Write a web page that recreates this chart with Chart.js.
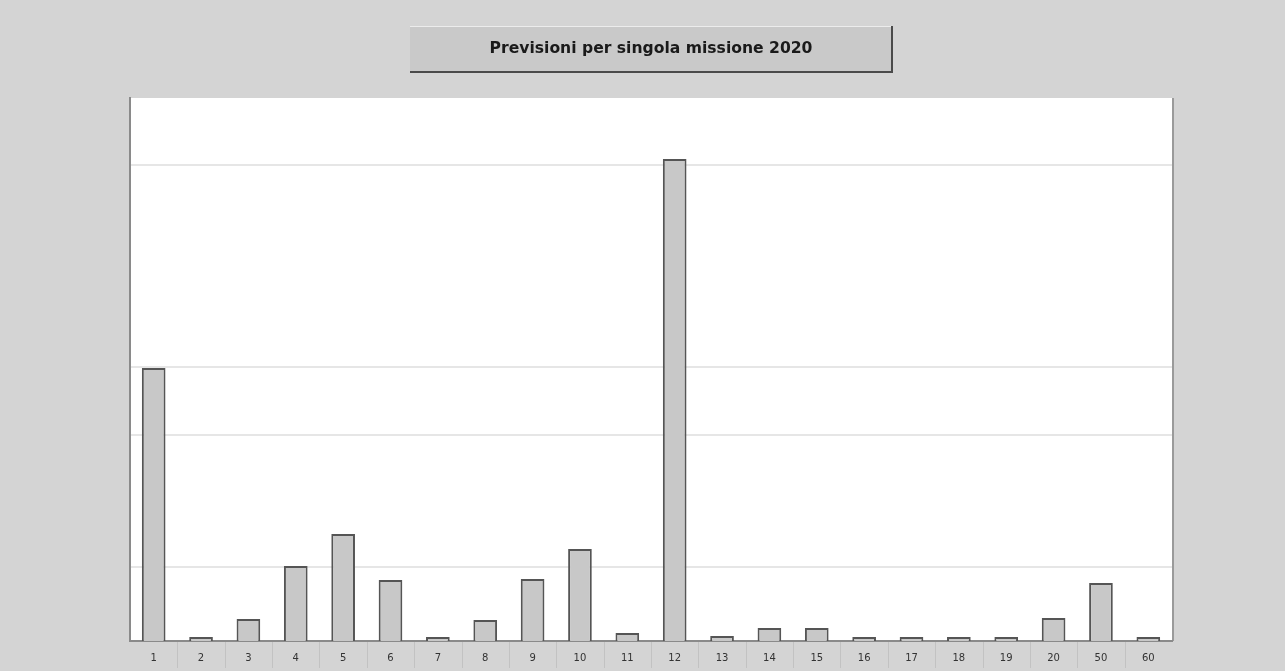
<!DOCTYPE html>
<html>
<head>
<meta charset="utf-8">
<script src="https://cdn.jsdelivr.net/npm/chart.js@4/dist/chart.umd.min.js"></script>
<style>
html,body{margin:0;padding:0;background:#d4d4d4;}
#wrap{width:1285px;height:671px;}
</style>
</head>
<body>
<div id="wrap"><canvas id="c" width="1285" height="671"></canvas></div>
<script>
const categories = ["1","2","3","4","5","6","7","8","9","10","11","12","13","14","15","16","17","18","19","20","50","60"];
const values = [273, 4, 22, 75, 107, 61, 4, 21, 62, 92, 8, 482, 5, 13, 13, 4, 4, 4, 4, 23, 58, 4];
const gridValues = [74, 206, 274, 476];
const yMax = 543;
const chartTitle = "Previsioni per singola missione 2020";

const bgPlugin = {
  id: 'bg',
  beforeDraw(chart) {
    const ctx = chart.ctx, a = chart.chartArea;
    ctx.save();
    ctx.fillStyle = '#d4d4d4';
    ctx.fillRect(0, 0, chart.width, chart.height);
    // title box
    ctx.fillStyle = '#c9c9c9';
    ctx.fillRect(410, 26, 482, 46);
    ctx.fillStyle = '#4a4a4a';
    ctx.fillRect(410, 71, 483, 2);
    ctx.fillRect(891, 26, 2, 47);
    ctx.fillStyle = '#ececec';
    ctx.fillRect(410, 26, 481, 1);
    // plot background
    ctx.fillStyle = '#ffffff';
    ctx.fillRect(a.left, a.top, a.right - a.left, a.bottom - a.top);
    ctx.fillStyle = '#9a9a9a';
    ctx.fillRect(a.right, a.top, 2, a.bottom - a.top);
    ctx.restore();
  },
  afterDraw(chart) {
    const ctx = chart.ctx, a = chart.chartArea, xs = chart.scales.x;
    ctx.save();
    ctx.strokeStyle = '#c2c2c2';
    ctx.lineWidth = 1;
    for (let i = 0; i < categories.length - 1; i++) {
      const x = Math.round((xs.getPixelForValue(i) + xs.getPixelForValue(i + 1)) / 2) + 0.5;
      ctx.beginPath();
      ctx.moveTo(x, a.bottom + 1);
      ctx.lineTo(x, a.bottom + 27);
      ctx.stroke();
    }
    ctx.restore();
  }
};

new Chart(document.getElementById('c'), {
  type: 'bar',
  data: {
    labels: categories,
    datasets: [{
      data: values,
      backgroundColor: '#c8c8c8',
      borderColor: '#555555',
      borderWidth: 2,
      borderSkipped: 'bottom',
      barPercentage: 0.5,
      categoryPercentage: 1.0
    }]
  },
  options: {
    responsive: false,
    animation: false,
    layout: { padding: { left: 130, right: 113, top: 0, bottom: 0 } },
    plugins: {
      legend: { display: false },
      tooltip: { enabled: false },
      title: {
        display: true,
        text: chartTitle,
        color: '#1a1a1a',
        font: { family: 'DejaVu Sans, sans-serif', size: 15.6, weight: 'bold' },
        padding: { top: 39.6, bottom: 39.7 }
      }
    },
    scales: {
      x: {
        offset: true,
        afterFit(scale) { scale.height = 30; },
        grid: { offset: true, drawOnChartArea: false, drawTicks: false },
        border: { display: true, color: '#8a8a8a', width: 2 },
        ticks: { color: '#333', padding: 11, font: { family: 'DejaVu Sans, sans-serif', size: 10 }, maxRotation: 0, autoSkip: false }
      },
      y: {
        min: 0,
        max: yMax,
        afterBuildTicks(scale) { scale.ticks = gridValues.map(v => ({ value: v })); },
        grid: { color: '#e6e6e6', lineWidth: 2, drawTicks: false },
        border: { display: true, color: '#8a8a8a', width: 2 },
        ticks: { display: false }
      }
    }
  },
  plugins: [bgPlugin]
});
</script>
</body>
</html>
